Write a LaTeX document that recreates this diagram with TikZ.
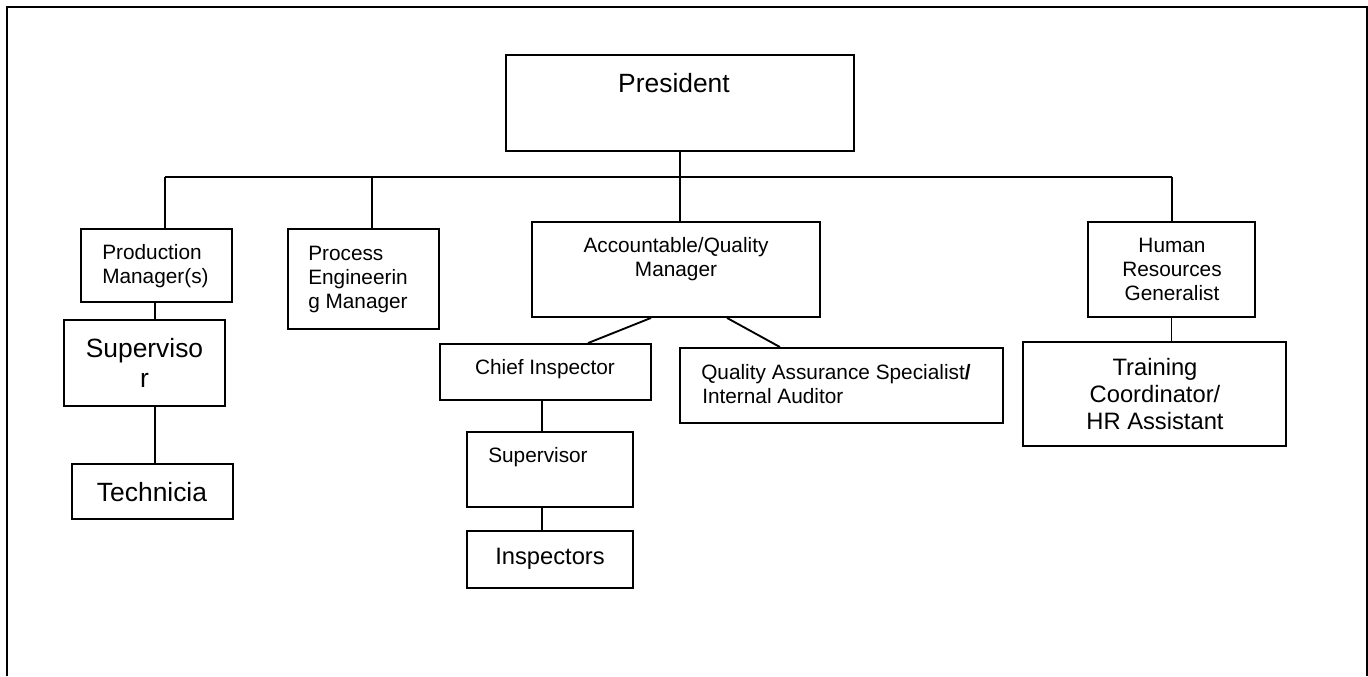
\documentclass[tikz,border=0pt]{standalone}
\usepackage{fontspec}
\setmainfont{Liberation Sans}
\usetikzlibrary{fit,calc}
\begin{document}
\begin{tikzpicture}[x=0.75pt,y=-0.75pt,
  box/.style={draw,line width=1.4pt,inner sep=0pt,rectangle},
  link/.style={line width=1.4pt},
  fs/.style={font=\fontsize{15.6}{18}\selectfont},
  fm/.style={font=\fontsize{17.8}{20}\selectfont},
  fl/.style={font=\fontsize{19.8}{22}\selectfont},
  tc/.style={inner sep=0pt,anchor=base},
  tl/.style={inner sep=0pt,anchor=base west}]
\useasboundingbox (0,0) rectangle (1368,676);
% outer frame (open at the bottom)
\draw[link] (7,676) -- (7,7) -- (1367,7) -- (1367,676);

% boxes
\node[box,fit={(506,55) (854,151)}] (pres) {};
\node[box,fit={(81,229) (232,302)}] (prod) {};
\node[box,fit={(64,320) (225,406)}] (sup1) {};
\node[box,fit={(72,464) (233,519)}] (tech) {};
\node[box,fit={(288,229) (439,329)}] (proc) {};
\node[box,fit={(532,222) (820,317)}] (acc) {};
\node[box,fit={(440,344) (651,400)}] (chief) {};
\node[box,fit={(680,348) (1003,423)}] (qa) {};
\node[box,fit={(467,432) (633,507)}] (sup2) {};
\node[box,fit={(467,531) (633,588)}] (insp) {};
\node[box,fit={(1088,222) (1255,317)}] (hr) {};
\node[box,fit={(1023,342) (1286,446)}] (train) {};

% texts
\node[tc,fl] (tpres) at (674,92) {President};
\node[tl,fs] (tprodA) at (102,259) {Production};
\node[tl,fs] (tprodB) at (102,283) {Manager(s)};
\node[tc,fl] (tsupA) at (144.5,357) {Superviso};
\node[tc,fl] (tsupB) at (144.5,387) {r};
\node[tc,fl] (ttech) at (152,501) {Technicia};
\node[tl,fs] (tprocA) at (308,260) {Process};
\node[tl,fs] (tprocB) at (308,284) {Engineerin};
\node[tl,fs] (tprocC) at (308,308) {g Manager};
\node[tc,fs] (taccA) at (676,252) {Accountable/Quality};
\node[tc,fs] (taccB) at (676,276) {Manager};
\node[tc,fs] (tchief) at (545,374) {Chief Inspector};
\node[tl,fs] (tqaA) at (701,379) {Quality Assurance Specialist\textbf{/}};
\node[tl,fs] (tqaB) at (702,403) {Internal Auditor};
\node[tl,fs] (tsup2) at (488,462) {Supervisor};
\node[tc,fm] (tinsp) at (550,564) {Inspectors};
\node[tc,fs] (thrA) at (1172,252) {Human};
\node[tc,fs] (thrB) at (1172,276) {Resources};
\node[tc,fs] (thrC) at (1172,300) {Generalist};
\node[tc,fm] (ttrA) at (1155,375) {Training};
\node[tc,fm] (ttrB) at (1155,402) {Coordinator/};
\node[tc,fm] (ttrC) at (1155,429) {HR Assistant};

% connectors
\coordinate (busL) at (165,177);
\coordinate (busP) at (372,177);
\coordinate (busR) at (1172,177);
\draw[link] (busL) -- (busR);
\draw[link] (pres.south) -- (pres.south |- acc.north);
\draw[link] (busL) -- (busL |- prod.north);
\draw[link] (busP) -- (busP |- proc.north);
\draw[link] (busR) -- (busR |- hr.north);
\coordinate (pl) at (155,0);
\draw[link] (pl |- prod.south) -- (pl |- sup1.north);
\draw[link] (pl |- sup1.south) -- (pl |- tech.north);
\coordinate (a1) at (651,0);
\coordinate (c1) at (588,0);
\draw[link] (a1 |- acc.south) -- (c1 |- chief.north);
\coordinate (a2) at (727,0);
\coordinate (q1) at (780,0);
\draw[link] (a2 |- acc.south) -- (q1 |- qa.north);
\coordinate (cx) at (542,0);
\draw[link] (cx |- chief.south) -- (cx |- sup2.north);
\draw[link] (cx |- sup2.south) -- (cx |- insp.north);
\draw[link] (hr.south) -- (hr.south |- train.north);
\end{tikzpicture}
\end{document}
